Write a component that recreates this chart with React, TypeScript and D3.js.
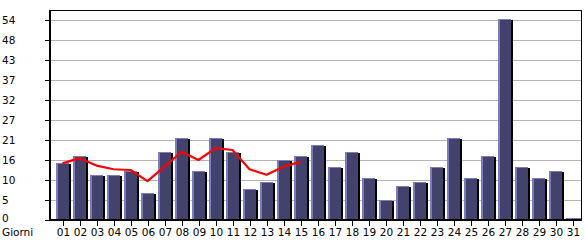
import React from "react";
import * as d3 from "d3";

const days = ["01","02","03","04","05","06","07","08","09","10","11","12","13","14","15","16","17","18","19","20","21","22","23","24","25","26","27","28","29","30","31"];
const visits = [15,17,12,12,13,7,18,22,13,22,18,8,10,16,17,20,14,18,11,5,9,10,14,22,11,17,54,14,11,13,0];
const trendDays = ["01","02","03","04","05","06","07","08","09","10","11","12","13","14","15"];
const trend = [15.3,16.7,14.7,13.7,13.5,10.5,14.4,18.4,16.2,19.4,18.9,13.7,12.2,14.4,15.7];
const yMax = 54;
const yTickValues = [0,5.4,10.8,16.2,21.6,27,32.4,37.8,43.2,48.6,54];
const xTitle = "Giorni";

export default function App() {
  const W = 585, H = 240;
  const left = 50, right = 582, top = 10, bottom = 220;
  const y = d3.scaleLinear().domain([0, yMax]).range([bottom, 20]);
  const x = d3.scaleBand<string>().domain(days).range([54, 581]).paddingInner(0).paddingOuter(0);
  const cx = (d: string) => (x(d) as number) + x.bandwidth() / 2;
  const bw = 13;
  const line = d3.line<number>().x((_, i) => cx(trendDays[i])).y(v => y(v));
  const font = "'DejaVu Sans', Verdana, sans-serif";
  return (
    <svg width={W} height={H} style={{ position: "absolute", left: 0, top: 0, background: "#fff" }}>
      <rect x={0} y={0} width={W} height={H} fill="#fff" />
      {yTickValues.map((t, i) => (
        <g key={i}>
          {i > 0 && <line x1={left} x2={right} y1={y(t) + 0.5} y2={y(t) + 0.5} stroke="#b4b4b4" strokeWidth={1} />}
          <line x1={45} x2={left} y1={y(t) + 0.5} y2={y(t) + 0.5} stroke="#000" strokeWidth={1} />
          <text x={2} y={i === 0 ? y(t) + 2 : y(t) + 4} fontFamily={font} fontSize={10.5} fill="#000">{Math.floor(t + 1e-9)}</text>
        </g>
      ))}
      {/* frame */}
      <line x1={left} x2={right} y1={top + 0.5} y2={top + 0.5} stroke="#000" strokeWidth={1} />
      <line x1={right - 0.5} x2={right - 0.5} y1={top} y2={bottom} stroke="#000" strokeWidth={1} />
      {days.map((d, i) => {
        const v = visits[i];
        const c = Math.round(cx(d));
        const bx = c - 7;
        const ty = Math.round(y(v)) - 1;
        const h = bottom - ty;
        return (
          <g key={d}>
            {v > 0 ? (
              <>
                <rect x={bx + 2} y={ty + 1} width={bw} height={bottom - ty - 1} fill="#000" />
                <rect x={bx} y={ty} width={bw} height={h} fill="#7c7cbc" />
                <rect x={bx + 2} y={ty + 1} width={bw - 2} height={h - 1} fill="#42426c" />
              </>
            ) : (
              <rect x={bx} y={bottom - 2} width={bw + 2} height={1} fill="#7c7cbc" />
            )}
            <line x1={c + 0.5} x2={c + 0.5} y1={bottom} y2={226} stroke="#000" strokeWidth={1} />
            <text x={c + 0.5} y={236} textAnchor="middle" fontFamily={font} fontSize={10.5} fill="#000">{d}</text>
          </g>
        );
      })}
      <line x1={left} x2={right} y1={bottom} y2={bottom} stroke="#000" strokeWidth={2} />
      <line x1={left} x2={left} y1={top} y2={bottom + 1} stroke="#000" strokeWidth={2} />
      <path d={line(trend) || ""} fill="none" stroke="#ff0000" strokeWidth={2.2} strokeLinejoin="round" />
      <text x={2} y={236} fontFamily={font} fontSize={10.5} fill="#000">{xTitle}</text>
    </svg>
  );
}
